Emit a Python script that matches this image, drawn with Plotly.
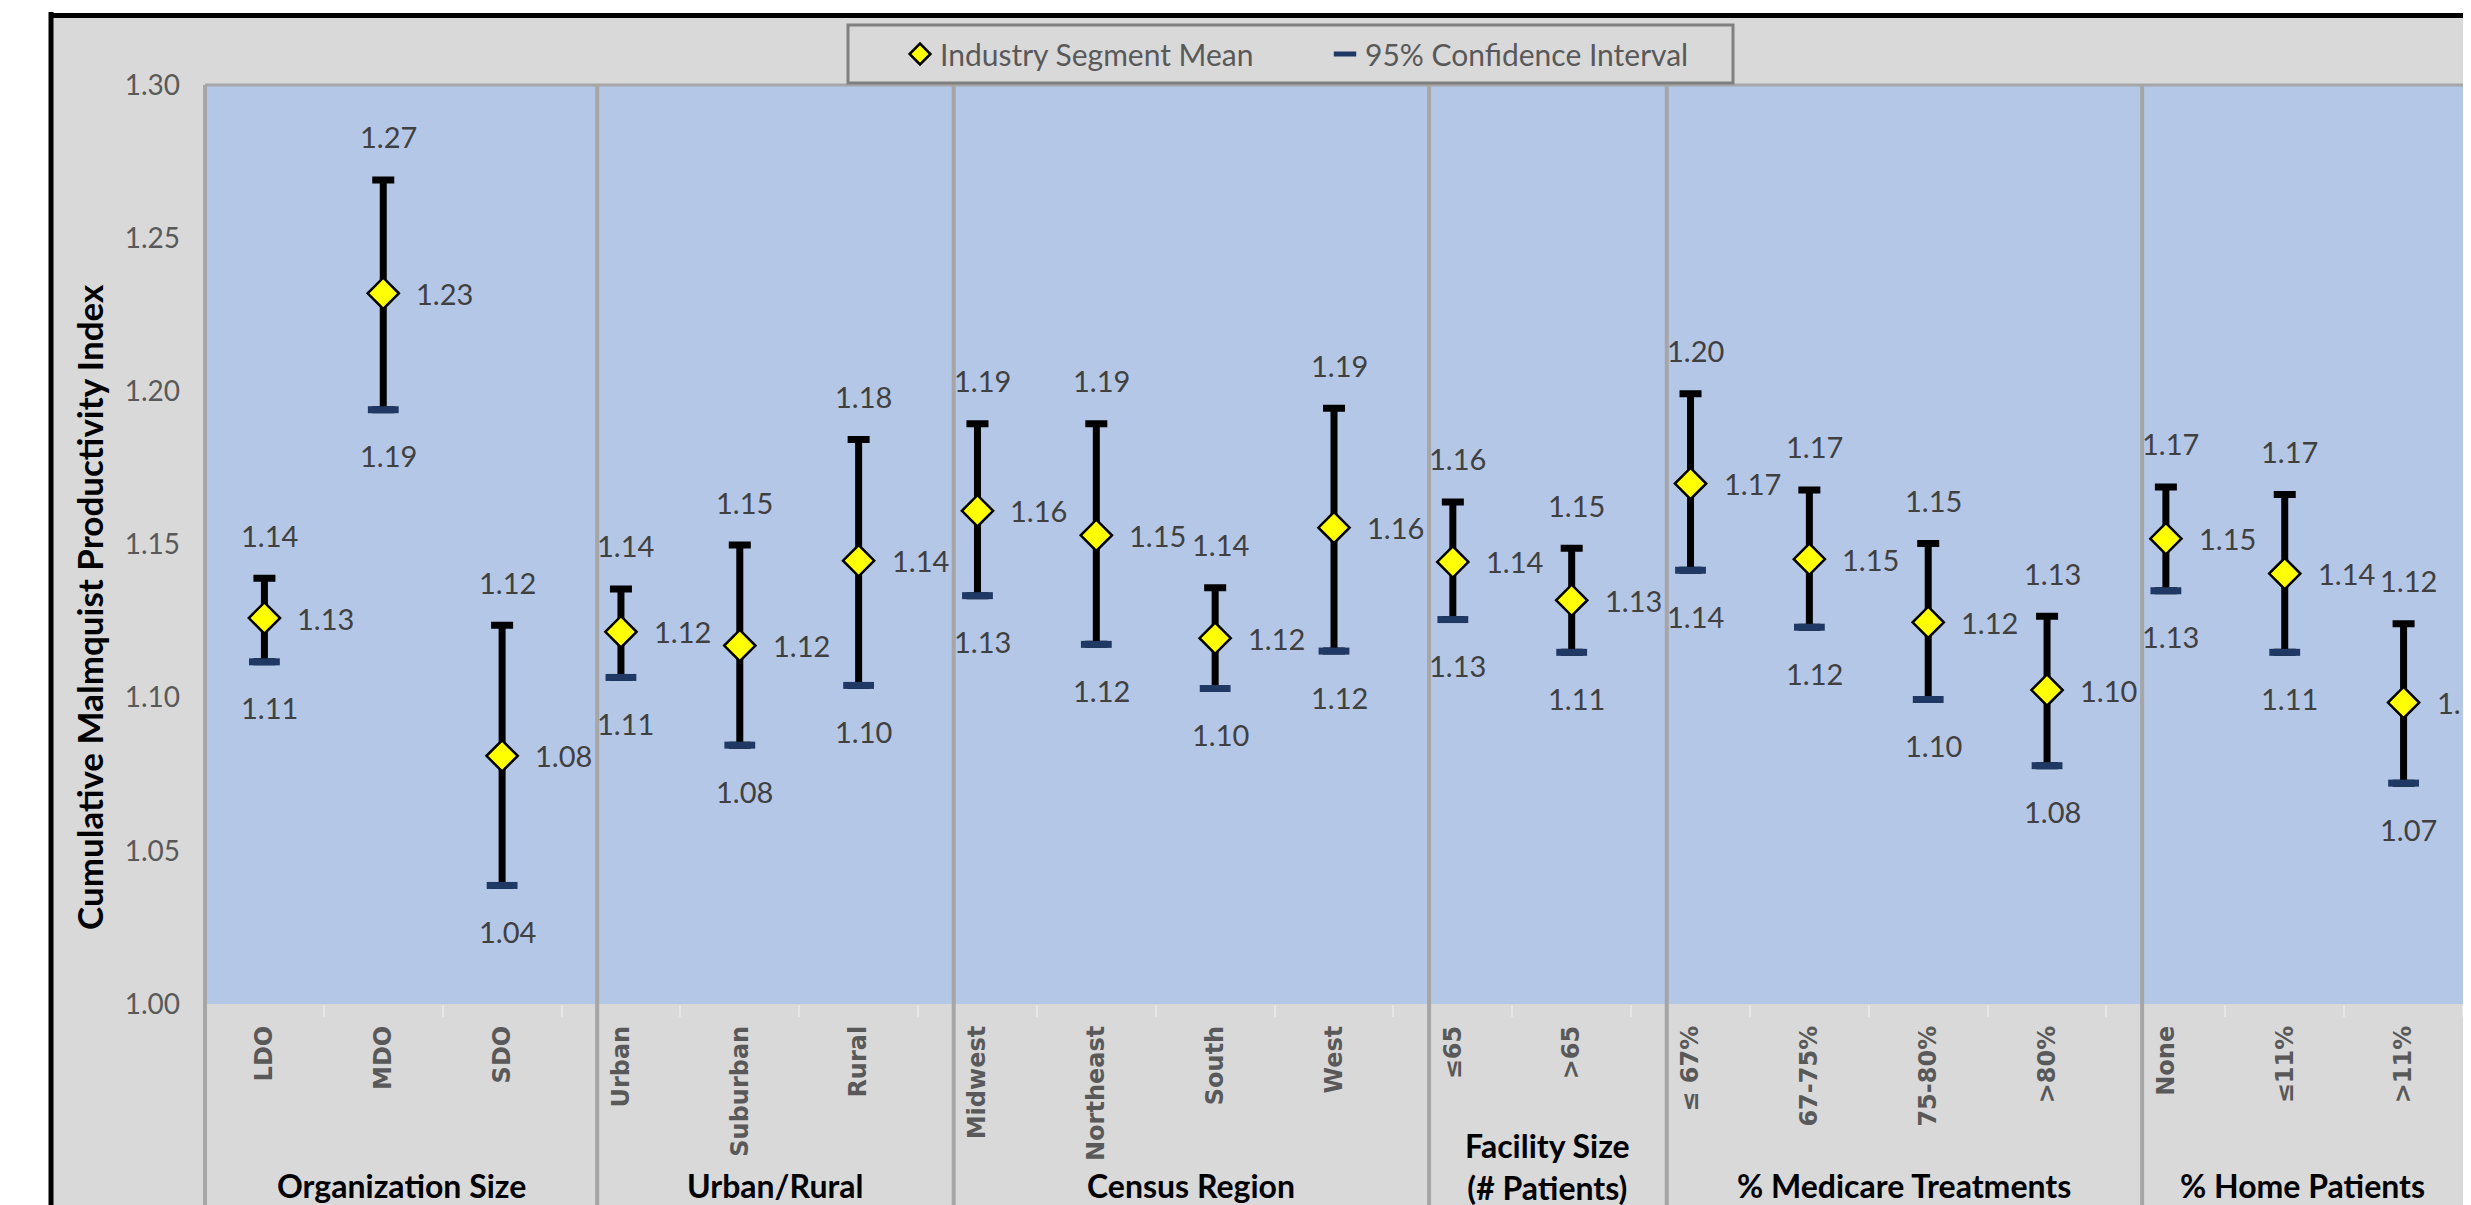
import plotly.graph_objects as go

# ---------------- data ----------------
categories = ["LDO", "MDO", "SDO",
              "Urban", "Suburban", "Rural",
              "Midwest", "Northeast", "South", "West",
              "≤65", ">65",
              "≤ 67%", "67-75%", "75-80%", ">80%",
              "None", "≤11%", ">11%"]

group_names = ["Organization Size", "Urban/Rural", "Census Region",
               "Facility Size<br>(# Patients)", "% Medicare Treatments", "% Home Patients"]
group_sizes = [3, 3, 4, 2, 4, 3]

mean_vals = [1.126, 1.232, 1.081,
             1.1215, 1.117, 1.1447,
             1.161, 1.153, 1.1194, 1.1555,
             1.1443, 1.1318,
             1.1699, 1.1452, 1.1246, 1.1025,
             1.1519, 1.1405, 1.0984]

upper_vals = [1.139, 1.269, 1.1236,
              1.1355, 1.1498, 1.1843,
              1.1894, 1.1894, 1.1359, 1.1945,
              1.1639, 1.1488,
              1.1992, 1.1678, 1.1503, 1.1266,
              1.1688, 1.1663, 1.1241]

lower_vals = [1.1117, 1.194, 1.0387,
              1.1066, 1.0845, 1.104,
              1.1333, 1.1174, 1.103, 1.1152,
              1.1255, 1.1148,
              1.1416, 1.123, 1.0994, 1.0778,
              1.1349, 1.1148, 1.0721]

y_ticks = [1.00, 1.05, 1.10, 1.15, 1.20, 1.25, 1.30]

y_title = "Cumulative Malmquist Productivity Index"

# ---------------- layout constants (page pixels) ----------------
W, H = 2471, 1205
OFF = 8                                        # default page body margin
PL, PR, PT, PB = 205, 2463, 85, 1004           # plot area edges on the page
N = len(categories)
SEP_OFFSET = 0.3                               # group separator offset (categories)

GRAY_BG = "#D9D9D9"
BLUE_BG = "#B4C7E7"
SEP_COL = "#A6A6A6"
NAVY = "#1F3864"
LABEL_COL = "#404040"
TICK_COL = "#595959"
FONT = "Lato"


def px_x(px):
    return (px - PL) / (PR - PL)


def px_y(py):
    return (PB - py) / (PB - PT)


def idx_x(i):
    return (i + 0.5) / N


fig = go.Figure()

fig.add_trace(go.Scatter(
    x=categories, y=mean_vals, mode="markers", name="Industry Segment Mean",
    marker=dict(symbol="diamond", size=24, color="#FFFF00",
                line=dict(color="#000000", width=2.5)),
    error_y=dict(type="data", symmetric=False,
                 array=[u - m for u, m in zip(upper_vals, mean_vals)],
                 arrayminus=[m - l for m, l in zip(mean_vals, lower_vals)],
                 color="#000000", thickness=7, width=11),
    hoverinfo="skip",
))

fig.add_trace(go.Scatter(
    x=categories, y=lower_vals, mode="markers", name="95% Confidence Interval",
    marker=dict(symbol="line-ew", size=22, color=NAVY,
                line=dict(color=NAVY, width=7)),
    hoverinfo="skip",
))

annotations = []
lab_font = dict(family=FONT, size=29, color=LABEL_COL)
for c, m, u, l in zip(categories, mean_vals, upper_vals, lower_vals):
    annotations.append(dict(x=c, y=m, xref="x", yref="y", text=f"{m:.2f}",
                            showarrow=False, xanchor="left", yanchor="middle",
                            xshift=31, font=lab_font))
    annotations.append(dict(x=c, y=u, xref="x", yref="y", text=f"{u:.2f}",
                            showarrow=False, xanchor="center", yanchor="middle",
                            xshift=5, yshift=43, font=lab_font))
    annotations.append(dict(x=c, y=l, xref="x", yref="y", text=f"{l:.2f}",
                            showarrow=False, xanchor="center", yanchor="middle",
                            xshift=5, yshift=-46, font=lab_font))

# y-axis title (centred on the chart area, as in the original)
annotations.append(dict(x=px_x(89), y=px_y(607), xref="paper", yref="paper",
                        text=y_title, textangle=-90, showarrow=False,
                        xanchor="center", yanchor="middle",
                        font=dict(family=FONT, size=35, color="#000000",
                                  weight="bold")))

# group boundaries (category index space)
bounds = [-0.5]
acc = 0
for s in group_sizes[:-1]:
    acc += s
    bounds.append(acc - 0.5 + SEP_OFFSET)
bounds.append(N - 0.5)

shapes = []
# white surroundings outside the chart frame
shapes.append(dict(type="rect", xref="paper", yref="paper",
                   x0=px_x(-10), x1=px_x(49), y0=px_y(H + 10), y1=px_y(-10),
                   fillcolor="white", line=dict(width=0), layer="above"))
shapes.append(dict(type="rect", xref="paper", yref="paper",
                   x0=px_x(-10), x1=px_x(W + 10), y0=px_y(13), y1=px_y(-10),
                   fillcolor="white", line=dict(width=0), layer="above"))
# black frame
shapes.append(dict(type="line", xref="paper", yref="paper",
                   x0=px_x(51), x1=px_x(51), y0=px_y(12), y1=px_y(H + 10),
                   line=dict(color="#000000", width=5), layer="above"))
shapes.append(dict(type="line", xref="paper", yref="paper",
                   x0=px_x(49), x1=px_x(W + 10), y0=px_y(15.5), y1=px_y(15.5),
                   line=dict(color="#000000", width=5), layer="above"))
# plot-area top border
shapes.append(dict(type="line", xref="paper", yref="paper",
                   x0=0, x1=1, y0=1, y1=1,
                   line=dict(color=SEP_COL, width=3), layer="above"))
# group separators
for b in bounds[:-1]:
    shapes.append(dict(type="line", xref="paper", yref="paper",
                       x0=idx_x(b), x1=idx_x(b), y0=1, y1=px_y(H + 10),
                       line=dict(color=SEP_COL, width=4), layer="above"))
# legend box
shapes.append(dict(type="rect", xref="paper", yref="paper",
                   x0=px_x(848), x1=px_x(1733), y0=px_y(83), y1=px_y(25),
                   fillcolor=GRAY_BG, line=dict(color="#808080", width=3),
                   layer="above"))

# group labels
for name, a, b in zip(group_names, bounds[:-1], bounds[1:]):
    two = "<br>" in name
    annotations.append(dict(x=idx_x((a + b) / 2), y=px_y(1166 if two else 1185),
                            xref="paper", yref="paper", text=name, showarrow=False,
                            xanchor="center", yanchor="middle",
                            font=dict(family=FONT, size=32, color="#000000",
                                      weight="bold")))

fig.update_layout(
    width=W - OFF, height=H - OFF,
    margin=dict(l=PL - OFF, r=W - PR, t=PT - OFF, b=H - PB, autoexpand=False),
    paper_bgcolor=GRAY_BG, plot_bgcolor=BLUE_BG,
    showlegend=True,
    legend=dict(orientation="h", x=px_x(900), y=px_y(54),
                xanchor="left", yanchor="middle",
                bgcolor="rgba(0,0,0,0)", borderwidth=0,
                font=dict(family=FONT, size=30, color=TICK_COL),
                entrywidth=380, entrywidthmode="pixels",
                itemsizing="trace"),
    shapes=shapes, annotations=annotations,
    xaxis=dict(type="category", categoryorder="array", categoryarray=categories,
               range=[-0.5, N - 0.5], showgrid=False, zeroline=False, showline=False,
               ticks="outside", tickson="boundaries", ticklen=12, tickwidth=2,
               tickcolor="#E6E6E6", tickangle=-90, ticklabelstandoff=16,
               tickfont=dict(family="DejaVu Sans", size=24, color=TICK_COL,
                             weight="bold")),
    yaxis=dict(range=[1.0, 1.3], tickvals=y_ticks, tickformat=".2f",
               showgrid=False, zeroline=False, showline=False, ticks="",
               ticklabelstandoff=24,
               tickfont=dict(family=FONT, size=28, color=TICK_COL)),
)

fig.write_html("out.html")
